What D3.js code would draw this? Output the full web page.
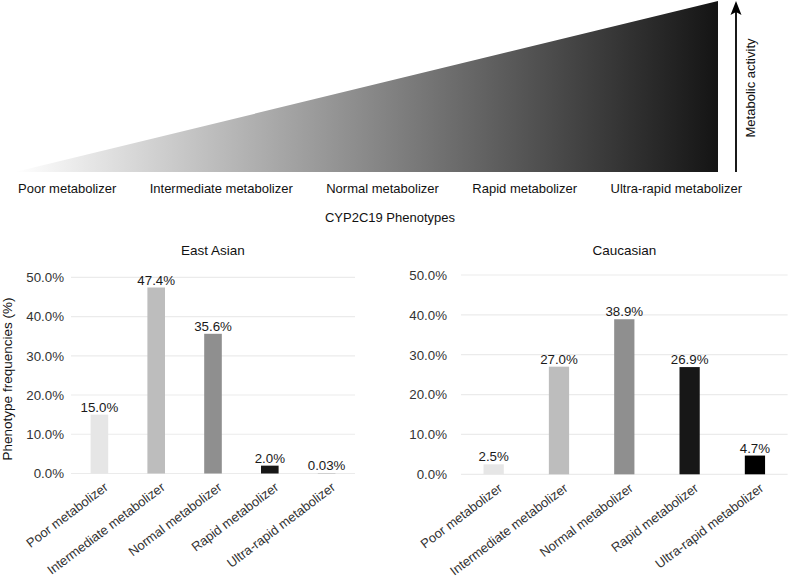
<!DOCTYPE html>
<html lang="en">
<head>
    <meta charset="utf-8">
    <title>CYP2C19 Phenotypes</title>
    <style>
        body {
            margin: 0;
            background: #fff;
        }
        svg {
            display: block;
            font-family: "Liberation Sans", Arial, sans-serif;
        }
        .grid line {
            stroke: #ebebeb;
            stroke-width: 1.2;
        }
        .tick-label {
            fill: #333;
            font-size: 13.3px;
        }
    </style>
</head>
<body>
<svg width="789" height="585"></svg>

<script src="https://d3js.org/d3.v7.min.js"></script>
<script>

    // ---- data ----
    const phenotypes = ["Poor metabolizer", "Intermediate metabolizer", "Normal metabolizer",
        "Rapid metabolizer", "Ultra-rapid metabolizer"];
    const eastAsian = [15.0, 47.4, 35.6, 2.0, 0.03];
    const eastAsianLabels = ["15.0%", "47.4%", "35.6%", "2.0%", "0.03%"];
    const caucasian = [2.5, 27.0, 38.9, 26.9, 4.7];
    const caucasianLabels = ["2.5%", "27.0%", "38.9%", "26.9%", "4.7%"];
    const yTicks = [0, 10, 20, 30, 40, 50];
    const barColors = ["#e6e6e6", "#bdbdbd", "#8f8f8f", "#171717", "#000000"];

    const svg = d3.select("svg");

    /*------------------------------
    ________Top gradient triangle____
    ______________________________*/
    const tri = {left: 15, right: 718, top: 1, bottom: 172};

    const defs = svg.append("defs");
    const grad = defs.append("linearGradient")
        .attr("id", "activity")
        .attr("x1", "0%").attr("x2", "100%")
        .attr("y1", "0%").attr("y2", "0%");
    grad.append("stop").attr("offset", "0%").attr("stop-color", "#ffffff");
    grad.append("stop").attr("offset", "100%").attr("stop-color", "#141414");

    // activity scale: 0 (poor) -> 1 (ultra-rapid)
    const ax = d3.scaleLinear().domain([0, 1]).range([tri.left, tri.right]);
    const ay = d3.scaleLinear().domain([0, 1]).range([tri.bottom, tri.top]);

    svg.append("path")
        .attr("d", d3.line()([[ax(0), ay(0)], [ax(1), ay(1)], [ax(1), ay(0)]]) + "Z")
        .attr("fill", "url(#activity)");

    // arrow (shaft + head)
    const arrowX = 736;
    svg.append("line")
        .attr("x1", arrowX).attr("x2", arrowX)
        .attr("y1", tri.bottom).attr("y2", 10)
        .attr("stroke", "#000")
        .attr("stroke-width", 1.8);
    svg.append("path")
        .attr("d", `M${arrowX},1 L${arrowX + 5.5},15 L${arrowX},12 L${arrowX - 5.5},15 Z`)
        .attr("fill", "#000");

    svg.append("text")
        .attr("transform", "translate(755,88) rotate(-90)")
        .attr("text-anchor", "middle")
        .attr("font-size", 13)
        .attr("fill", "#111")
        .text("Metabolic activity");

    // phenotype labels, laid out with equal gaps between them
    const topLabels = svg.append("g")
        .attr("font-size", 13)
        .attr("fill", "#111")
        .selectAll("text")
        .data(phenotypes)
        .join("text")
        .attr("y", 193)
        .text(d => d);

    const widths = topLabels.nodes().map(n => n.getComputedTextLength());
    const startX = 18, endX = 742;
    const gap = (endX - startX - d3.sum(widths)) / (phenotypes.length - 1);
    let cursor = startX;
    topLabels.attr("x", (d, i) => {
        const x = cursor;
        cursor += widths[i] + gap;
        return x;
    });

    svg.append("text")
        .attr("x", 390).attr("y", 222)
        .attr("text-anchor", "middle")
        .attr("font-size", 13)
        .attr("fill", "#111")
        .text("CYP2C19 Phenotypes");

    /*------------------------------
    ________Bar panels_______________
    ______________________________*/
    function panel(title, values, labels, x0, x1, y0, y50, labelRight) {
        const x = d3.scaleBand()
            .domain(phenotypes)
            .range([x0, x1])
            .paddingInner(0.69)
            .paddingOuter(0.345);
        const y = d3.scaleLinear()
            .domain([0, 50])
            .range([y0, y50]);

        const g = svg.append("g");

        // grid
        g.append("g")
            .attr("class", "grid")
            .selectAll("line")
            .data(yTicks)
            .join("line")
            .attr("x1", x0).attr("x2", x1)
            .attr("y1", d => y(d)).attr("y2", d => y(d));

        // y tick labels
        g.append("g")
            .selectAll("text")
            .data(yTicks)
            .join("text")
            .attr("class", "tick-label")
            .attr("x", labelRight)
            .attr("y", d => y(d))
            .attr("dy", "0.36em")
            .attr("text-anchor", "end")
            .text(d => d3.format(".1f")(d) + "%");

        // bars
        g.append("g")
            .selectAll("rect")
            .data(values)
            .join("rect")
            .attr("x", (d, i) => x(phenotypes[i]))
            .attr("width", x.bandwidth())
            .attr("y", d => y(d))
            .attr("height", d => y(0) - y(d))
            .attr("fill", (d, i) => barColors[i]);

        // value labels
        g.append("g")
            .selectAll("text")
            .data(values)
            .join("text")
            .attr("x", (d, i) => x(phenotypes[i]) + x.bandwidth() / 2)
            .attr("y", d => y(d) - 3)
            .attr("text-anchor", "middle")
            .attr("font-size", 13.3)
            .attr("fill", "#1a1a1a")
            .text((d, i) => labels[i]);

        // rotated category labels
        g.append("g")
            .selectAll("text")
            .data(phenotypes)
            .join("text")
            .attr("text-anchor", "end")
            .attr("font-size", 13)
            .attr("fill", "#333")
            .attr("dy", "0.72em")
            .attr("transform", d => `translate(${x(d) + x.bandwidth() / 2 + 4},${y0 + 8}) rotate(-37)`)
            .text(d => d);

        // title
        g.append("text")
            .attr("x", (x0 + x1) / 2)
            .attr("y", 255)
            .attr("text-anchor", "middle")
            .attr("font-size", 13.5)
            .attr("fill", "#111")
            .text(title);
    }

    panel("East Asian", eastAsian, eastAsianLabels, 71, 355, 473.5, 277.3, 64);
    panel("Caucasian", caucasian, caucasianLabels, 461, 787.6, 474.3, 275, 447);

    // shared y axis title
    svg.append("text")
        .attr("transform", "translate(12,379) rotate(-90)")
        .attr("text-anchor", "middle")
        .attr("font-size", 13.5)
        .attr("fill", "#111")
        .text("Phenotype frequencies (%)");

</script>

</body>
</html>
